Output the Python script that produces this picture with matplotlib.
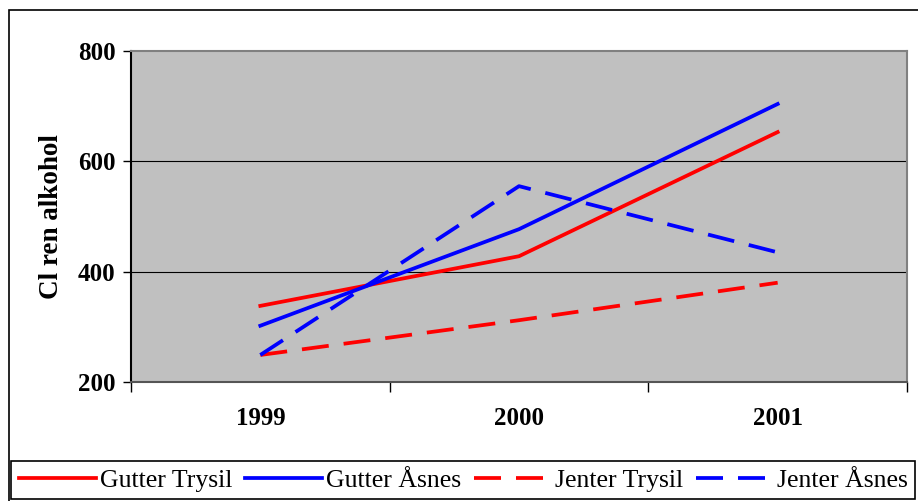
#! /usr/bin/env python3
import matplotlib
matplotlib.use("Agg")
import matplotlib.pyplot as plt
from matplotlib.patches import Rectangle

plt.rcParams['font.family'] = 'Liberation Serif'

years = ["1999", "2000", "2001"]
gutter_trysil = [338, 428, 653]
gutter_asnes = [302, 477, 704]
jenter_trysil = [249, 312, 380]
jenter_asnes = [249, 555, 435]

W, H = 918, 501
fig = plt.figure(figsize=(W / 100, H / 100), dpi=100)

# outer chart frame
fig.patches.append(Rectangle((9 / W, -0.1), 1.2, 1.1 - 10 / H, transform=fig.transFigure,
                             fill=False, edgecolor="black", linewidth=1.2, clip_on=False))

ax = fig.add_axes([131 / W, 1 - 382 / H, 776 / W, 331 / H])
ax.set_facecolor("#C0C0C0")

x = range(len(years))
lw = 2.7
dash = (0, (7.2, 4))
ax.plot(x, gutter_trysil, color="red", lw=lw, label="Gutter Trysil")
ax.plot(x, gutter_asnes, color="blue", lw=lw, label="Gutter Åsnes")
ax.plot(x, jenter_trysil, color="red", lw=lw, ls=dash, label="Jenter Trysil")
ax.plot(x, jenter_asnes, color="blue", lw=lw, ls=dash, label="Jenter Åsnes")

ax.set_xlim(-0.5, 2.5)
ax.set_ylim(200, 800)
ax.set_yticks([200, 400, 600, 800])
ax.set_xticks(list(x))
ax.set_xticklabels(years, fontweight="bold", fontsize=18)
ax.set_xticks([-0.5, 0.5, 1.5, 2.5], minor=True)
ax.tick_params(axis="x", which="major", length=0, pad=18)
ax.tick_params(axis="x", which="minor", length=7, direction="out", width=1)
ax.tick_params(axis="y", length=6, direction="out", width=1, pad=5)
for lab in ax.get_yticklabels():
    lab.set_fontweight("bold")
    lab.set_fontsize(18)

for yv in [400, 600]:
    ax.axhline(yv, color="black", lw=0.8, zorder=1)

ax.spines["top"].set_color("#808080")
ax.spines["right"].set_color("#808080")
ax.spines["left"].set_color("black")
ax.spines["bottom"].set_color("#555555")
for s in ax.spines.values():
    s.set_linewidth(1.5)

ax.set_ylabel("Cl ren alkohol", fontweight="bold", fontsize=19.5, labelpad=10)

leg = fig.legend(loc="upper left", bbox_to_anchor=(11 / W, 1 - 461 / H), ncol=4,
                 borderaxespad=0, fancybox=False, framealpha=1, edgecolor="black",
                 fontsize=18.5, handlelength=3.0, handletextpad=0.15, columnspacing=0.5,
                 borderpad=0.3)
leg.get_frame().set_linewidth(1.2)

fig.savefig("out.png", dpi=100)
